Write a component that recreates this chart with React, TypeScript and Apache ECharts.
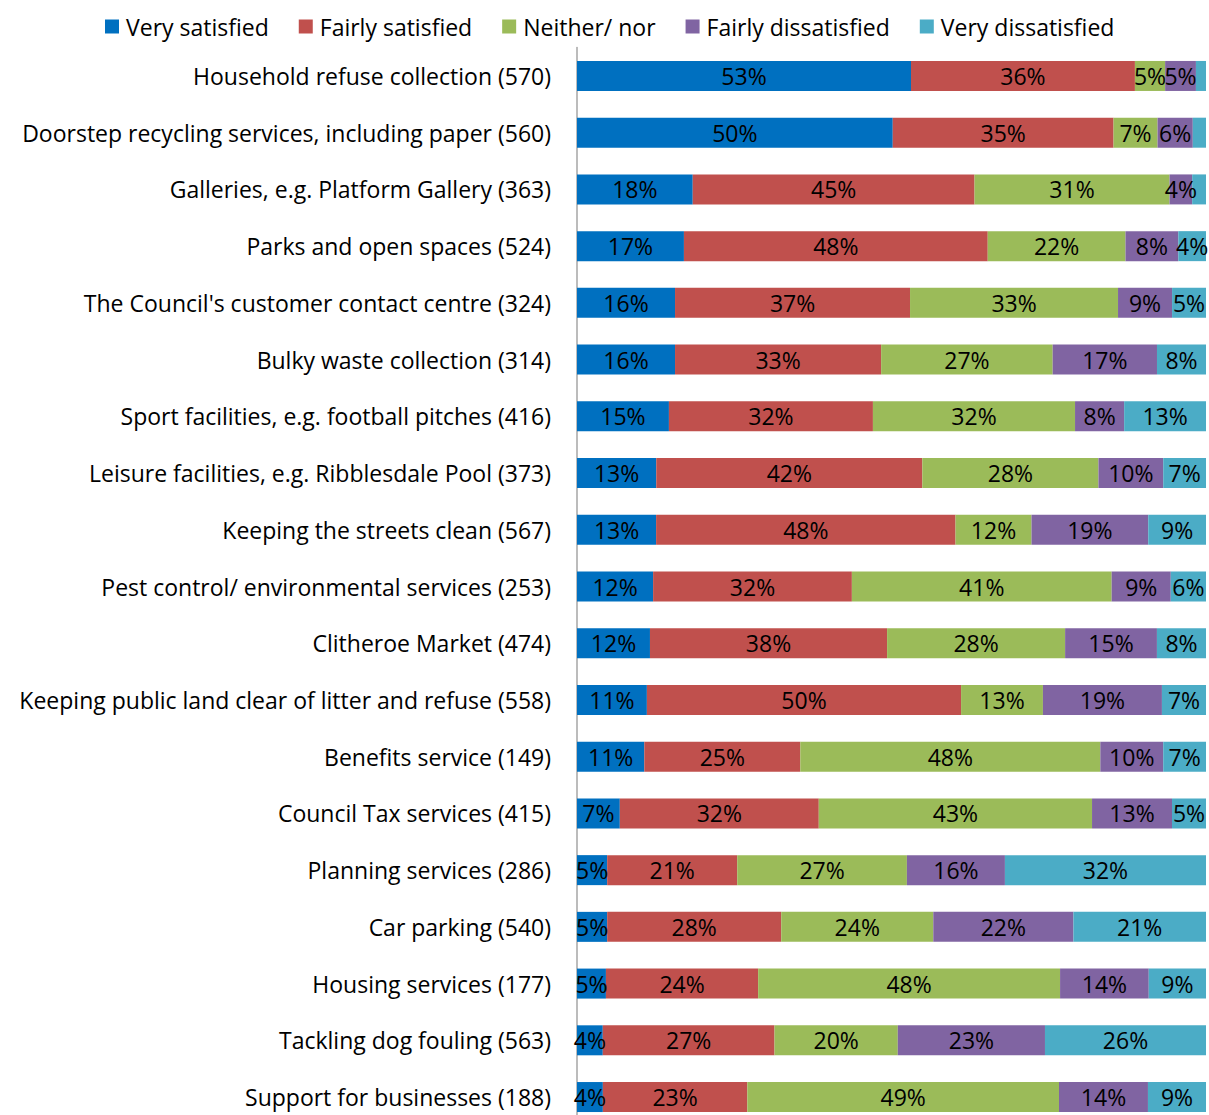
import React, { useEffect, useRef } from "react";
import * as echarts from "echarts";

const categories = [
  "Household refuse collection (570)",
  "Doorstep recycling services, including paper (560)",
  "Galleries, e.g. Platform Gallery (363)",
  "Parks and open spaces (524)",
  "The Council's customer contact centre (324)",
  "Bulky waste collection (314)",
  "Sport facilities, e.g. football pitches (416)",
  "Leisure facilities, e.g. Ribblesdale Pool (373)",
  "Keeping the streets clean (567)",
  "Pest control/ environmental services (253)",
  "Clitheroe Market (474)",
  "Keeping public land clear of litter and refuse (558)",
  "Benefits service (149)",
  "Council Tax services (415)",
  "Planning services (286)",
  "Car parking (540)",
  "Housing services (177)",
  "Tackling dog fouling (563)",
  "Support for businesses (188)",
];

const seriesNames = [
  "Very satisfied",
  "Fairly satisfied",
  "Neither/ nor",
  "Fairly dissatisfied",
  "Very dissatisfied",
];

const verySatisfied = [53.1, 50.2, 18.4, 17.0, 15.6, 15.6, 14.6, 12.6, 12.6, 12.1, 11.6, 11.1, 10.7, 6.8, 4.8, 4.8, 4.6, 4.1, 4.1];
const fairlySatisfied = [35.6, 35.1, 44.8, 48.3, 37.4, 32.8, 32.4, 42.3, 47.7, 31.6, 37.7, 49.9, 24.8, 31.6, 20.7, 27.7, 24.2, 27.3, 22.9];
const neitherNor = [4.8, 7.0, 31.0, 21.9, 33.1, 27.3, 32.1, 28.0, 12.1, 41.3, 28.3, 13.0, 47.7, 43.4, 27.0, 24.2, 48.0, 19.6, 49.4];
const fairlyDissatisfied = [4.9, 5.6, 3.6, 8.4, 8.6, 16.6, 7.8, 10.3, 18.6, 9.4, 14.6, 18.9, 10.0, 12.7, 15.6, 22.3, 14.1, 23.4, 14.1];
const veryDissatisfied = [1.6, 2.1, 2.2, 4.4, 5.4, 7.8, 13.0, 6.8, 9.2, 5.6, 7.8, 7.0, 6.8, 5.4, 32.0, 21.1, 9.1, 25.6, 9.2];

const colors = ["#0070C0", "#C0504D", "#9BBB59", "#8064A2", "#4BACC6"];

const FONT = "'Open Sans', sans-serif";

export default function App() {
  const ref = useRef<HTMLDivElement>(null);
  useEffect(() => {
    document.body.style.margin = "0";
    document.body.style.overflow = "hidden";
    if (!ref.current) return;
    const chart = echarts.init(ref.current, undefined, { renderer: "svg" });
    const raw = [verySatisfied, fairlySatisfied, neitherNor, fairlyDissatisfied, veryDissatisfied];
    const sums = categories.map((_, i) => raw.reduce((s, arr) => s + arr[i], 0));
    const series = raw.map((arr, si) => ({
      name: seriesNames[si],
      type: "bar",
      stack: "total",
      barWidth: 30,
      itemStyle: { color: colors[si] },
      label: {
        show: true,
        position: "inside",
        color: "#000",
        fontFamily: FONT,
        fontSize: 23,
        formatter: (p: any) => {
          const v = arr[p.dataIndex];
          return v < 3 ? "" : Math.round(v) + "%";
        },
      },
      data: arr.map((v, i) => (v / sums[i]) * 100),
    }));
    chart.setOption({
      animation: false,
      textStyle: { fontFamily: FONT },
      legend: {
        top: 10,
        left: 100,
        icon: "rect",
        itemWidth: 14,
        itemHeight: 14,
        itemGap: 30,
        textStyle: { fontSize: 23, color: "#000", fontFamily: FONT, padding: [0, 0, 0, 2] },
        data: seriesNames,
      },
      grid: { left: 577, right: 3, top: 47.6, bottom: 4.6, containLabel: false },
      xAxis: {
        type: "value",
        min: 0,
        max: 100,
        show: false,
      },
      yAxis: {
        type: "category",
        inverse: true,
        data: categories,
        axisLine: { show: true, lineStyle: { color: "#A6A6A6", width: 1.5 } },
        axisTick: { show: false },
        axisLabel: { color: "#000", fontSize: 23, fontFamily: FONT, margin: 26 },
      },
      series,
    });
    return () => chart.dispose();
  }, []);
  return <div ref={ref} style={{ width: 1209, height: 1130 }} />;
}
